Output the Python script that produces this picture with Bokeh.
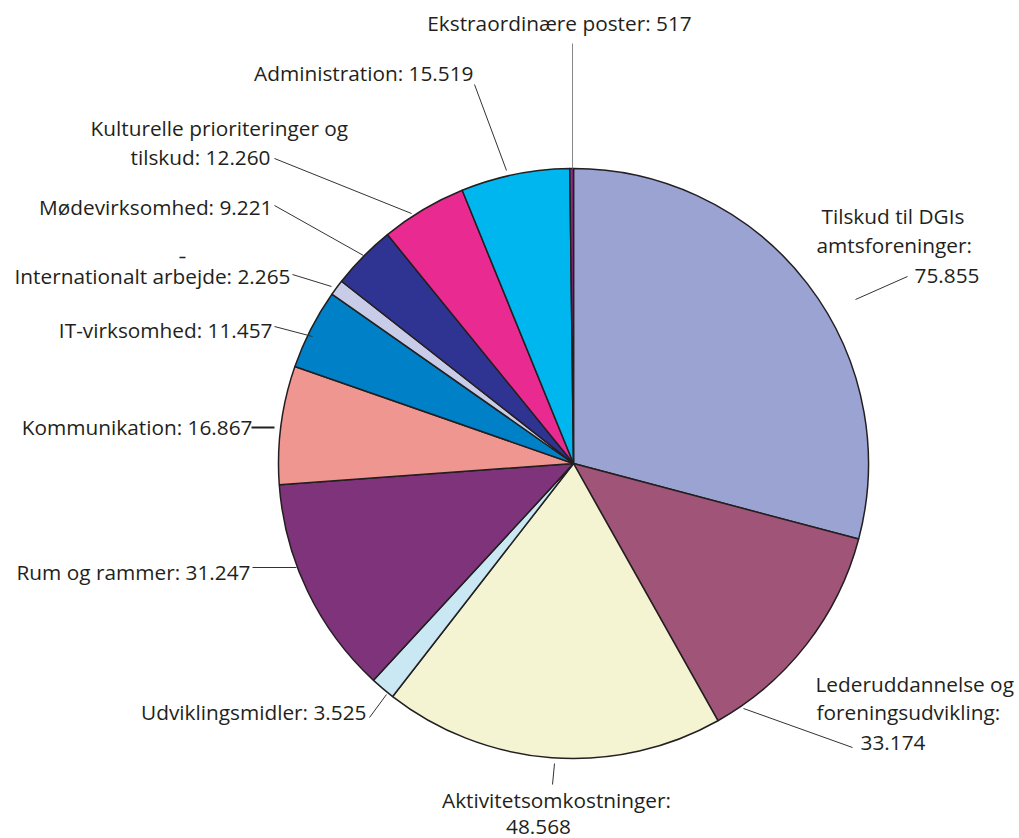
import numpy as np
from bokeh.plotting import figure
from bokeh.models import Range1d, ColumnDataSource
from bokeh.core.properties import value
from bokeh.embed import file_html
from bokeh.resources import INLINE

# ---------------- data ----------------
categories = ["Tilskud til DGIs amtsforeninger", "Lederuddannelse og foreningsudvikling",
              "Aktivitetsomkostninger", "Udviklingsmidler", "Rum og rammer", "Kommunikation",
              "IT-virksomhed", "Internationalt arbejde", "Mødevirksomhed",
              "Kulturelle prioriteringer og tilskud", "Administration", "Ekstraordinære poster"]
values = [75855, 33174, 48568, 3525, 31247, 16867, 11457, 2265, 9221, 12260, 15519, 517]
colors = ["#9AA3D2", "#A05478", "#F4F3D2", "#CAE8F3", "#7E337B", "#EF9691",
          "#0080C6", "#C9CCE8", "#2F3391", "#E92A91", "#00B6EF", "#8E2A8B"]

def fmt(v):
    return f"{v:,}".replace(",", ".")

# label line texts per slice (line breaks as in the reference)
label_texts = [
    ["Tilskud til DGIs", "amtsforeninger:", fmt(values[0])],
    ["Lederuddannelse og", "foreningsudvikling:", fmt(values[1])],
    ["Aktivitetsomkostninger:", fmt(values[2])],
    [f"Udviklingsmidler: {fmt(values[3])}"],
    [f"Rum og rammer: {fmt(values[4])}"],
    [f"Kommunikation: {fmt(values[5])}"],
    [f"IT-virksomhed: {fmt(values[6])}"],
    [f"Internationalt arbejde: {fmt(values[7])}"],
    [f"Mødevirksomhed: {fmt(values[8])}"],
    ["Kulturelle prioriteringer og", f"tilskud: {fmt(values[9])}"],
    [f"Administration: {fmt(values[10])}"],
    [f"Ekstraordinære poster: {fmt(values[11])}"],
]

# ---------------- layout (page pixel positions) ----------------
CX, CY, R = 573, 463, 295
label_pos = [  # (x, y, align) per line
    [(821, 215, "left"), (816, 244, "left"), (914, 275, "left")],
    [(815, 683, "left"), (816, 711, "left"), (860, 742, "left")],
    [(556, 799, "center"), (538, 826, "center")],
    [(366, 711, "right")],
    [(250, 571, "right")],
    [(252, 426, "right")],
    [(272, 329, "right")],
    [(290, 275, "right")],
    [(272, 206, "right")],
    [(90, 127, "left"), (130, 156, "left")],
    [(473, 72, "right")],
    [(559, 22, "center")],
]
leaders = [  # (x0, y0, x1, y1, width, color)
    (855, 299, 907, 276, 1, "#333333"),
    (743, 708, 852, 747, 1, "#333333"),
    (554, 763, 552, 784, 1, "#333333"),
    (386, 694, 369, 717, 1, "#333333"),
    (296, 567, 252, 567, 1, "#333333"),
    (274, 427, 251, 427, 2, "#231F20"),
    (312, 336, 274, 326, 1, "#333333"),
    (331, 286, 292, 274, 1, "#333333"),
    (363, 255, 274, 205, 1, "#333333"),
    (411, 213, 274, 158, 1, "#333333"),
    (506, 170, 474, 84, 1, "#333333"),
    (572, 168, 572, 43, 1, "#888888"),
]

W, H = 1019, 838
p = figure(width=W, height=H, output_backend="svg", toolbar_location=None,
           x_range=Range1d(0, W), y_range=Range1d(-H, 0),
           min_border=0)
p.axis.visible = False
p.grid.visible = False
p.outline_line_color = None
p.background_fill_color = "white"
p.border_fill_color = "white"

vals = np.array(values, dtype=float)
frac = vals / vals.sum()
cum = np.concatenate([[0.0], np.cumsum(frac)])
start = np.pi / 2 - cum[:-1] * 2 * np.pi
end = np.pi / 2 - cum[1:] * 2 * np.pi

src = ColumnDataSource(dict(start=start, end=end, color=colors,
                            cat=categories, val=values))
p.wedge(x=CX, y=-CY, radius=R, start_angle="start", end_angle="end",
        direction="clock", fill_color="color", line_color="#231F20",
        line_width=1.5, source=src)

for (x0, y0, x1, y1, w, c) in leaders:
    p.line([x0, x1], [-y0, -y1], line_color=c, line_width=w)

# stray small dash as seen in the reference
p.line([179, 185], [-257, -257], line_color="#231F20", line_width=1.5)

xs, ys, ts, al = [], [], [], []
for texts, poss in zip(label_texts, label_pos):
    for t, (x, y, a) in zip(texts, poss):
        xs.append(x); ys.append(-y); ts.append(t); al.append(a)
for a in ["left", "right", "center"]:
    idx = [i for i in range(len(ts)) if al[i] == a]
    s = ColumnDataSource(dict(x=[xs[i] for i in idx], y=[ys[i] for i in idx],
                              t=[ts[i] for i in idx]))
    p.text(x="x", y="y", text="t", source=s, text_align=a,
           text_baseline="middle", text_font=value("Open Sans"),
           text_font_size="20.8px", text_color="#231F20")

open("out.html", "w").write(file_html(p, INLINE))
